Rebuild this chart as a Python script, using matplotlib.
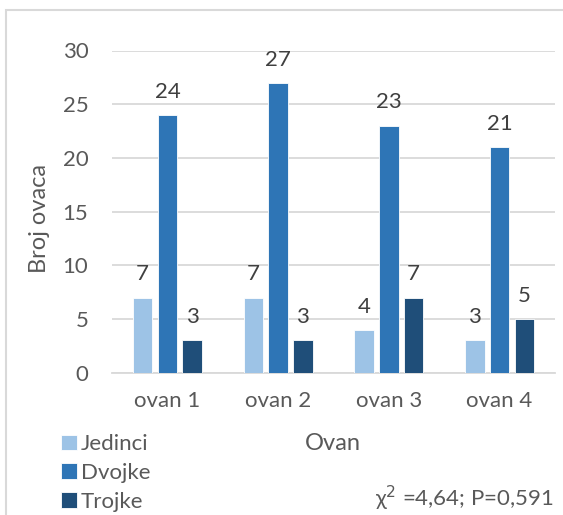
import numpy as np
import matplotlib.pyplot as plt
from matplotlib.patches import Rectangle

categories = ["ovan 1", "ovan 2", "ovan 3", "ovan 4"]
series_names = ["Jedinci", "Dvojke", "Trojke"]
jedinci = [7, 7, 4, 3]
dvojke = [24, 27, 23, 21]
trojke = [3, 3, 7, 5]

colors = ["#9DC3E6", "#2E75B6", "#1F4E79"]
txt = "#595959"
plt.rcParams['font.family'] = ['Lato', 'DejaVu Sans']
fs = 16

fig = plt.figure(figsize=(5.63, 5.15), dpi=100)
W, H = 563, 515
ax = fig.add_axes([112 / W, 1 - 372.7 / H, (555 - 112) / W, (372.7 - 50.5) / H])

# outer chart border (only left/top visible in reference)
fig.patches.append(Rectangle((6 / W, -0.1), 1.2, 1 - 10 / H + 0.1, transform=fig.transFigure,
                             fill=False, edgecolor="#D9D9D9", linewidth=1.5))

x = np.arange(len(categories))
step = 0.223
width = 0.176
for i, (vals, name) in enumerate(zip([jedinci, dvojke, trojke], series_names)):
    pos = x + (i - 1) * step
    bars = ax.bar(pos, vals, width, color=colors[i], label=name, zorder=3,
                  edgecolor="white", linewidth=0.6)
    for b, v in zip(bars, vals):
        ax.annotate(str(v), (b.get_x() + b.get_width() / 2, v), xytext=(0, 9.5),
                    textcoords="offset points", ha="center", va="bottom",
                    fontsize=fs, color="#404040")

ax.set_xlim(-0.5, 3.5)
ax.set_ylim(0, 30)
ax.set_yticks(range(0, 31, 5))
ax.set_xticks(x)
ax.set_xticklabels(categories)
ax.grid(axis="y", color="#D9D9D9", linewidth=1.3, zorder=0)
for s in ["top", "right", "left"]:
    ax.spines[s].set_visible(False)
ax.spines["bottom"].set_color("#D9D9D9")
ax.spines["bottom"].set_linewidth(1.3)
ax.tick_params(length=0, labelsize=fs, labelcolor=txt)
ax.tick_params(axis="y", pad=17)
ax.tick_params(axis="x", pad=13)

fig.text(40 / W, 1 - 218 / H, "Broj ovaca", rotation=90, ha="center", va="center",
         fontsize=17, color=txt)
fig.text(333 / W, 1 - 443 / H, "Ovan", ha="center", va="center", fontsize=17, color=txt)
fig.text(554 / W, 1 - 498 / H, r"χ$^{2}$ =4,64; P=0,591", ha="right", va="center",
         fontsize=16, color=txt)

handles, labels = ax.get_legend_handles_labels()
fig.legend(handles, labels, loc="upper left", bbox_to_anchor=(50 / W, 1 - 423 / H),
           frameon=False, fontsize=fs, labelcolor=txt, handlelength=0.7,
           handleheight=0.7, handletextpad=0.2, labelspacing=0.4, borderpad=0)

fig.savefig("out.png", dpi=100)
